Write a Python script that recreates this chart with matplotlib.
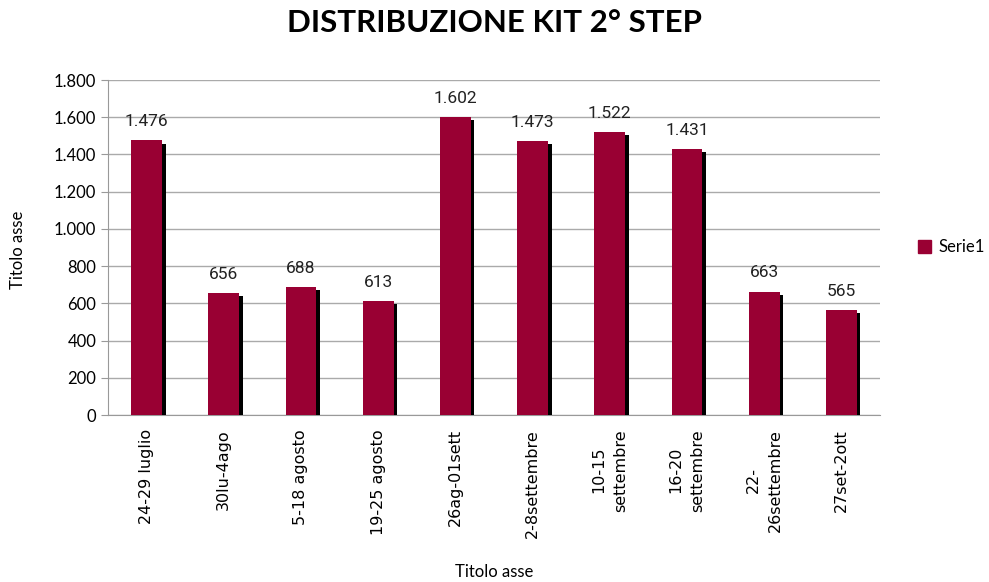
import matplotlib
matplotlib.use('Agg')
import matplotlib.pyplot as plt
import matplotlib.patheffects as pe
from matplotlib.patches import Patch
from matplotlib.ticker import FuncFormatter

plt.rcParams['font.family'] = ['Lato', 'DejaVu Sans']

periods = ['24-29 luglio', '30lu-4ago', '5-18 agosto', '19-25 agosto', '26ag-01sett',
           '2-8settembre', '10-15\nsettembre', '16-20\nsettembre', '22-\n26settembre', '27set-2ott']
kits = [1476, 656, 688, 613, 1602, 1473, 1522, 1431, 663, 565]
bar_color = '#990033'

W, H = 989, 582
fig = plt.figure(figsize=(W / 100, H / 100), dpi=100)
ax = fig.add_axes([108/W, 1 - 415/H, (880-108)/W, (415-80)/H])

x = range(len(kits))
bars = ax.bar(x, kits, width=0.4, color=bar_color, zorder=3)
for b in bars:
    b.set_path_effects([pe.SimplePatchShadow(offset=(2.5, -2.5), shadow_rgbFace='black', alpha=1.0),
                        pe.Normal()])

def thousands(v, pos=None):
    return f'{int(v):,}'.replace(',', '.')

for xi, v in zip(x, kits):
    ax.text(xi, v + 60, thousands(v), ha='center', va='bottom', fontsize=12.5,
            color='#222222', family='Roboto')

ax.set_xlim(-0.5, len(kits) - 0.5)
ax.set_ylim(0, 1800)
ax.set_yticks(range(0, 1801, 200))
ax.yaxis.set_major_formatter(FuncFormatter(thousands))
ax.set_xticks(list(x))
ax.set_xticklabels(periods, rotation=90, fontsize=11.5, linespacing=1.55)
ax.tick_params(axis='x', length=0, pad=10, labelfontfamily='DejaVu Sans')
ax.tick_params(axis='y', labelsize=12, color='#999999', length=5)
ax.grid(axis='y', color='#aaaaaa', linewidth=1, zorder=0)
for s in ['top', 'right']:
    ax.spines[s].set_visible(False)
ax.spines['left'].set_color('#999999')
ax.spines['bottom'].set_color('#999999')

fig.text(18/W, 1 - 250/H, 'Titolo asse', rotation=90, ha='center', va='center', fontsize=12)
fig.text(494/W, 1 - 572/H, 'Titolo asse', ha='center', va='center', fontsize=12)
fig.suptitle('DISTRIBUZIONE KIT 2° STEP', fontsize=22.5, fontweight='bold', y=0.985)

ax.legend(handles=[Patch(color=bar_color, label='Serie1')], loc='center left',
          bbox_to_anchor=(1.03, 0.5), frameon=False, fontsize=12,
          handlelength=0.8, handleheight=0.8, handletextpad=0.4)

fig.savefig('out.png', dpi=100)
